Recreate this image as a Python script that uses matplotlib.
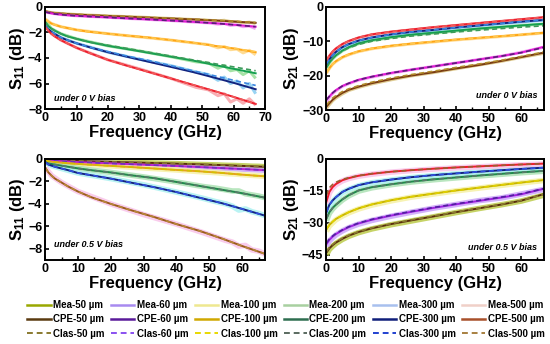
import matplotlib.pyplot as plt
import numpy as np
from matplotlib.lines import Line2D
from matplotlib.ticker import MultipleLocator

plt.rcParams['font.family'] = ['Liberation Sans', 'DejaVu Sans']
plt.rcParams['font.weight'] = 'bold'
plt.rcParams['axes.labelweight'] = 'bold'
plt.rcParams['mathtext.fontset'] = 'custom'
plt.rcParams['mathtext.rm'] = 'Liberation Sans:bold'
plt.rcParams['mathtext.it'] = 'Liberation Sans:bold'
plt.rcParams['mathtext.bf'] = 'Liberation Sans:bold'

# frequency grids (GHz)
f = [0.1, 1, 2, 3, 5, 7, 10, 14, 20, 26, 33, 40, 47, 54, 60, 67]
f_mea = [0.1, 2, 5, 10, 20, 30, 40, 48, 52, 55, 57, 59, 61, 63, 65, 67]

# ---- S11 under 0 V (top left), order: brown, magenta, orange, green, navy, red
s11_0_cpe = [
    [-0.35, -0.4, -0.45, -0.48, -0.52, -0.56, -0.6, -0.65, -0.71, -0.77, -0.84, -0.91, -0.98, -1.06, -1.15, -1.25],
    [-0.4, -0.45, -0.5, -0.55, -0.6, -0.65, -0.7, -0.75, -0.82, -0.9, -0.98, -1.07, -1.17, -1.28, -1.4, -1.55],
    [-1.0, -1.15, -1.3, -1.4, -1.55, -1.65, -1.8, -1.95, -2.1, -2.25, -2.4, -2.6, -2.8, -3.05, -3.25, -3.55],
    [-1.2, -1.5, -1.7, -1.85, -2.1, -2.3, -2.5, -2.75, -3.05, -3.3, -3.6, -3.9, -4.2, -4.55, -4.85, -5.2],
    [-1.5, -1.75, -1.95, -2.1, -2.4, -2.6, -2.85, -3.15, -3.55, -3.9, -4.3, -4.7, -5.1, -5.55, -5.95, -6.45],
    [-1.6, -1.85, -2.1, -2.3, -2.6, -2.85, -3.2, -3.6, -4.15, -4.6, -5.1, -5.6, -6.1, -6.6, -7.05, -7.6],
]
s11_0_clas = [
    [-0.33, -0.38, -0.43, -0.46, -0.5, -0.54, -0.58, -0.63, -0.69, -0.75, -0.82, -0.89, -0.96, -1.04, -1.12, -1.22],
    [-0.4, -0.45, -0.5, -0.55, -0.6, -0.65, -0.7, -0.75, -0.82, -0.9, -0.98, -1.07, -1.17, -1.28, -1.4, -1.55],
    [-1.0, -1.15, -1.3, -1.4, -1.55, -1.65, -1.8, -1.95, -2.1, -2.25, -2.4, -2.6, -2.8, -3.05, -3.25, -3.5],
    [-1.2, -1.5, -1.7, -1.85, -2.1, -2.3, -2.5, -2.75, -3.0, -3.25, -3.55, -3.85, -4.15, -4.45, -4.7, -5.0],
    [-1.5, -1.75, -1.95, -2.1, -2.4, -2.6, -2.85, -3.15, -3.5, -3.85, -4.2, -4.6, -5.0, -5.4, -5.75, -6.15],
    [-1.6, -1.85, -2.1, -2.3, -2.6, -2.85, -3.2, -3.6, -4.15, -4.6, -5.1, -5.6, -6.1, -6.6, -7.05, -7.6],
]
s11_0_mea = [
    [-0.35, -0.45, -0.52, -0.6, -0.71, -0.8, -0.91, -1.0, -1.05, -1.1, -1.05, -1.15, -1.15, -1.25, -1.2, -1.3],
    [-0.4, -0.5, -0.6, -0.7, -0.82, -0.95, -1.07, -1.2, -1.25, -1.35, -1.3, -1.45, -1.4, -1.55, -1.5, -1.7],
    [-0.95, -1.3, -1.55, -1.8, -2.1, -2.35, -2.6, -2.85, -2.95, -3.2, -3.1, -3.35, -3.3, -3.6, -3.4, -3.75],
    [-1.1, -1.7, -2.1, -2.5, -3.05, -3.45, -3.9, -4.3, -4.4, -4.8, -4.6, -5.0, -4.9, -5.3, -5.0, -5.6],
    [-1.4, -1.95, -2.4, -2.85, -3.55, -4.1, -4.6, -5.1, -5.3, -5.75, -5.5, -6.0, -5.8, -6.35, -6.0, -6.8],
    [-1.5, -2.1, -2.6, -3.2, -4.15, -4.85, -5.6, -6.3, -6.5, -6.95, -6.8, -7.45, -7.2, -7.55, -7.2, -7.7],
]

# ---- S21 under 0 V (top right), measured on the f grid
s21_0_cpe = [
    [-29.0, -28.0, -27.0, -26.2, -25.0, -24.1, -23.2, -22.2, -21.0, -20.0, -19.0, -17.9, -16.9, -15.7, -14.6, -13.3],
    [-27.0, -26.0, -25.0, -24.2, -23.0, -22.2, -21.2, -20.3, -19.2, -18.3, -17.3, -16.3, -15.3, -14.3, -13.3, -11.6],
    [-19.0, -17.8, -16.6, -15.8, -14.6, -13.8, -12.9, -12.1, -11.3, -10.7, -10.1, -9.5, -9.0, -8.5, -8.1, -7.5],
    [-17.5, -16.2, -15.0, -14.1, -12.7, -11.7, -10.6, -9.7, -8.8, -8.1, -7.5, -6.9, -6.3, -5.8, -5.4, -4.9],
    [-16.5, -15.2, -14.0, -13.1, -11.7, -10.8, -9.8, -8.9, -8.0, -7.3, -6.7, -6.0, -5.4, -4.8, -4.3, -3.8],
    [-15.5, -14.2, -13.0, -12.1, -10.8, -9.9, -8.9, -8.0, -7.2, -6.6, -5.9, -5.3, -4.7, -4.1, -3.6, -3.0],
]
s21_0_clas = [
    [-28.5, -27.5, -26.5, -25.8, -24.6, -23.8, -22.9, -21.9, -20.7, -19.7, -18.7, -17.6, -16.6, -15.5, -14.4, -13.1],
    [-27.0, -26.0, -25.0, -24.2, -23.0, -22.2, -21.2, -20.3, -19.2, -18.3, -17.3, -16.3, -15.3, -14.3, -13.3, -11.8],
    [-19.0, -17.8, -16.6, -15.8, -14.6, -13.8, -12.9, -12.1, -11.3, -10.7, -10.1, -9.5, -9.0, -8.5, -8.1, -7.5],
    [-17.5, -16.2, -15.0, -14.1, -12.8, -11.9, -10.9, -10.0, -9.2, -8.5, -7.9, -7.3, -6.8, -6.3, -5.9, -5.5],
    [-16.5, -15.2, -14.0, -13.1, -11.7, -10.8, -9.8, -8.9, -8.0, -7.3, -6.7, -6.0, -5.4, -4.8, -4.3, -3.8],
    [-15.5, -14.2, -13.0, -12.1, -10.8, -9.9, -8.9, -8.0, -7.2, -6.6, -5.9, -5.3, -4.7, -4.1, -3.6, -3.0],
]
s21_0_mea = [
    [-29.5, -28.4, -27.3, -26.5, -25.3, -24.3, -23.4, -22.4, -21.2, -20.1, -19.1, -18.0, -16.9, -15.8, -14.7, -13.5],
    [-27.5, -26.3, -25.2, -24.4, -23.1, -22.3, -21.3, -20.4, -19.3, -18.3, -17.3, -16.3, -15.3, -14.3, -13.2, -11.7],
    [-19.3, -17.9, -16.7, -15.9, -14.7, -13.9, -13.0, -12.2, -11.4, -10.8, -10.2, -9.6, -9.1, -8.6, -8.1, -7.6],
    [-17.8, -16.3, -15.1, -14.2, -12.8, -11.8, -10.7, -9.8, -8.9, -8.2, -7.6, -7.0, -6.4, -5.9, -5.4, -5.0],
    [-16.8, -15.3, -14.1, -13.2, -11.8, -10.9, -9.9, -9.0, -8.1, -7.4, -6.8, -6.1, -5.5, -4.9, -4.4, -3.9],
    [-15.8, -14.3, -13.1, -12.2, -10.9, -10.0, -9.0, -8.1, -7.3, -6.7, -6.0, -5.4, -4.8, -4.2, -3.7, -3.1],
]

# ---- S11 under 0.5 V (bottom left), order: 50, 60, 100, 200, 300, 500 um
s11_5_cpe = [
    [-0.05, -0.07, -0.09, -0.1, -0.12, -0.14, -0.17, -0.21, -0.26, -0.31, -0.36, -0.42, -0.48, -0.55, -0.62, -0.7],
    [-0.1, -0.12, -0.15, -0.17, -0.2, -0.23, -0.28, -0.33, -0.4, -0.47, -0.55, -0.63, -0.72, -0.82, -0.9, -1.0],
    [-0.15, -0.2, -0.25, -0.28, -0.33, -0.38, -0.45, -0.52, -0.62, -0.72, -0.85, -0.98, -1.1, -1.25, -1.4, -1.55],
    [-0.3, -0.4, -0.45, -0.5, -0.6, -0.7, -0.84, -1.0, -1.2, -1.45, -1.7, -2.05, -2.4, -2.75, -3.05, -3.45],
    [-0.3, -0.5, -0.6, -0.7, -0.85, -1.0, -1.25, -1.45, -1.75, -2.1, -2.5, -2.95, -3.45, -3.95, -4.45, -5.05],
    [-0.8, -1.2, -1.5, -1.75, -2.1, -2.45, -2.9, -3.4, -4.0, -4.55, -5.15, -5.8, -6.4, -7.1, -7.75, -8.45],
]
s11_5_clas = [
    [-0.05, -0.07, -0.09, -0.1, -0.12, -0.14, -0.17, -0.21, -0.26, -0.31, -0.36, -0.42, -0.48, -0.55, -0.62, -0.7],
    [-0.1, -0.12, -0.15, -0.17, -0.2, -0.23, -0.28, -0.33, -0.4, -0.47, -0.55, -0.63, -0.72, -0.82, -0.9, -1.0],
    [-0.15, -0.2, -0.25, -0.28, -0.33, -0.38, -0.45, -0.52, -0.62, -0.72, -0.85, -0.98, -1.1, -1.25, -1.4, -1.55],
    [-0.3, -0.4, -0.45, -0.5, -0.6, -0.7, -0.84, -1.0, -1.2, -1.45, -1.7, -2.05, -2.4, -2.75, -3.05, -3.45],
    [-0.3, -0.5, -0.6, -0.7, -0.85, -1.0, -1.25, -1.45, -1.75, -2.1, -2.5, -2.95, -3.45, -3.95, -4.45, -5.05],
    [-0.8, -1.2, -1.5, -1.75, -2.1, -2.45, -2.9, -3.4, -4.0, -4.55, -5.15, -5.8, -6.4, -7.1, -7.75, -8.45],
]
s11_5_mea = [
    [-0.05, -0.09, -0.12, -0.17, -0.26, -0.34, -0.42, -0.5, -0.53, -0.57, -0.58, -0.6, -0.62, -0.65, -0.66, -0.7],
    [-0.1, -0.15, -0.2, -0.28, -0.4, -0.52, -0.63, -0.75, -0.8, -0.85, -0.86, -0.9, -0.92, -0.95, -0.97, -1.0],
    [-0.15, -0.25, -0.33, -0.45, -0.62, -0.8, -0.98, -1.15, -1.22, -1.3, -1.33, -1.37, -1.42, -1.46, -1.5, -1.55],
    [-0.3, -0.45, -0.6, -0.84, -1.2, -1.6, -2.05, -2.45, -2.6, -2.75, -2.85, -2.85, -3.1, -3.2, -3.3, -3.45],
    [-0.3, -0.6, -0.85, -1.25, -1.75, -2.3, -2.95, -3.5, -3.8, -4.0, -4.2, -4.55, -4.45, -4.7, -4.85, -5.05],
    [-0.8, -1.5, -2.1, -2.9, -4.0, -4.95, -5.8, -6.55, -6.95, -7.25, -7.4, -7.75, -7.7, -8.1, -8.2, -8.45],
]

# ---- S21 under 0.5 V (bottom right), measured on the f grid
s21_5_cpe = [
    [-44.0, -42.0, -40.5, -39.3, -37.5, -36.0, -34.3, -32.6, -30.6, -28.9, -27.0, -25.0, -23.2, -21.4, -19.6, -16.5],
    [-40.0, -38.0, -36.5, -35.3, -33.5, -32.0, -30.3, -28.6, -26.6, -24.9, -23.0, -21.3, -19.7, -18.1, -16.6, -14.0],
    [-33.0, -31.0, -29.5, -28.2, -26.5, -25.0, -23.2, -21.4, -19.4, -17.8, -16.3, -14.8, -13.5, -12.2, -11.1, -9.9],
    [-28.0, -25.0, -23.0, -21.5, -19.0, -17.0, -14.8, -13.3, -11.9, -10.7, -9.6, -8.7, -7.8, -7.0, -6.3, -5.6],
    [-25.0, -21.5, -19.5, -18.0, -15.5, -14.0, -12.3, -11.0, -9.7, -8.6, -7.6, -6.8, -6.0, -5.3, -4.7, -4.1],
    [-20.0, -15.5, -13.2, -11.8, -10.0, -9.0, -7.9, -7.0, -6.0, -5.3, -4.6, -4.0, -3.5, -3.0, -2.6, -2.2],
]
s21_5_clas = [
    [-43.5, -41.6, -40.1, -39.0, -37.2, -35.8, -34.1, -32.4, -30.4, -28.7, -26.8, -24.9, -23.1, -21.3, -19.5, -16.6],
    [-39.5, -37.6, -36.2, -35.0, -33.3, -31.8, -30.1, -28.4, -26.4, -24.7, -22.8, -21.1, -19.5, -17.9, -16.4, -13.9],
    [-33.0, -31.0, -29.5, -28.2, -26.5, -25.0, -23.2, -21.4, -19.4, -17.8, -16.3, -14.8, -13.5, -12.2, -11.1, -9.9],
    [-28.0, -25.0, -23.0, -21.5, -19.0, -17.0, -14.8, -13.3, -11.9, -10.7, -9.6, -8.7, -7.8, -7.0, -6.3, -5.6],
    [-25.0, -21.5, -19.5, -18.0, -15.5, -14.0, -12.3, -11.0, -9.7, -8.6, -7.6, -6.8, -6.0, -5.3, -4.7, -4.1],
    [-17.0, -13.5, -12.0, -11.0, -9.6, -8.8, -7.8, -6.9, -6.0, -5.3, -4.6, -4.0, -3.5, -3.0, -2.6, -2.2],
]
s21_5_mea = [
    [-45.0, -42.5, -41.0, -39.7, -37.8, -36.3, -34.6, -32.9, -30.9, -29.2, -27.2, -25.2, -23.3, -21.5, -19.8, -17.0],
    [-41.0, -38.5, -37.0, -35.7, -33.8, -32.3, -30.6, -28.9, -26.9, -25.1, -23.1, -21.4, -19.6, -18.3, -16.5, -14.3],
    [-34.0, -31.5, -30.0, -28.6, -26.8, -25.3, -23.5, -21.7, -19.7, -18.0, -16.5, -15.0, -13.7, -12.4, -11.3, -10.1],
    [-29.0, -25.5, -23.5, -21.9, -19.3, -17.3, -15.1, -13.6, -12.1, -10.9, -9.8, -8.9, -8.0, -7.2, -6.5, -5.8],
    [-26.0, -22.0, -20.0, -18.4, -15.8, -14.3, -12.6, -11.2, -9.9, -8.8, -7.8, -7.0, -6.2, -5.5, -4.9, -4.3],
    [-21.0, -16.0, -13.6, -12.1, -10.3, -9.2, -8.1, -7.2, -6.2, -5.5, -4.8, -4.2, -3.7, -3.2, -2.8, -2.4],
]

# colours used in the panels
top_cpe = ['#7a3b12', '#e21ad6', '#ffa514', '#14a050', '#13237e', '#ee1c2c']
top_clas = ['#b08a2a', '#5b1e7a', '#ffc850', '#3c9a5a', '#3a86e0', '#f05a5a']
top_mea = ['#d8c078', '#f090f0', '#ffd47a', '#90dc90', '#7ec8f0', '#f79aa0']
bot_cpe = ['#5a2e0c', '#c020d0', '#e8a020', '#1e8a4a', '#13237e', '#9a5a1e']
bot_clas = ['#8a7a30', '#7030c0', '#d4c000', '#5a7a6a', '#3050e0', '#b8863a']
bot_mea = ['#b8c840', '#c8a0f8', '#f5f0a0', '#a8e0b0', '#a8f0f0', '#f8c0e8']
bot_cpe_r = ['#5a2e0c', '#a020e0', '#c8b400', '#1e8a4a', '#13237e', '#ee1c2c']
bot_clas_r = ['#8a7a30', '#5020a0', '#e0d000', '#5a7a6a', '#3050e0', '#9a6030']

fig = plt.figure(figsize=(5.5, 3.44), dpi=100)
ax1 = fig.add_axes([0.082, 0.683, 0.400, 0.297])
ax2 = fig.add_axes([0.593, 0.680, 0.396, 0.300])
ax3 = fig.add_axes([0.082, 0.244, 0.400, 0.294])
ax4 = fig.add_axes([0.593, 0.244, 0.396, 0.294])


def draw(ax, fm, cpe, clas, mea, c_cpe, c_clas, c_mea, mea_lw):
    for i in range(6):
        ax.plot(fm, mea[i], color=c_mea[i], lw=mea_lw, alpha=0.8, solid_capstyle='butt')
    for i in range(6):
        ax.plot(f, cpe[i], color=c_cpe[i], lw=1.4)
        ax.plot(f, clas[i], color=c_clas[i], lw=1.2, ls=(0, (3, 2)))


draw(ax1, f_mea, s11_0_cpe, s11_0_clas, s11_0_mea, top_cpe, top_clas, top_mea, 2.2)
draw(ax2, f, s21_0_cpe, s21_0_clas, s21_0_mea, top_cpe, top_clas, top_mea, 2.2)
draw(ax3, f_mea, s11_5_cpe, s11_5_clas, s11_5_mea, bot_cpe, bot_clas, bot_mea, 4)
draw(ax4, f, s21_5_cpe, s21_5_clas, s21_5_mea, bot_cpe_r, bot_clas_r, bot_mea, 4)

ax1.set_xlim(0, 70)
ax1.set_ylim(-8, 0)
ax1.set_yticks([0, -2, -4, -6, -8])
ax1.set_ylabel('S$_{11}$ (dB)')
ax1.text(0.04, 0.08, 'under 0 V bias', transform=ax1.transAxes, fontsize=6.5, style='italic')

ax2.set_xlim(0, 67)
ax2.set_ylim(-30, 0)
ax2.set_yticks([0, -10, -20, -30])
ax2.set_ylabel('S$_{21}$ (dB)')
ax2.text(0.97, 0.12, 'under 0 V bias', transform=ax2.transAxes, fontsize=6.5, style='italic', ha='right')

ax3.set_xlim(0, 67)
ax3.set_ylim(-9, 0)
ax3.set_yticks([0, -2, -4, -6, -8])
ax3.set_ylabel('S$_{11}$ (dB)')
ax3.text(0.04, 0.13, 'under 0.5 V bias', transform=ax3.transAxes, fontsize=6.5, style='italic')

ax4.set_xlim(0, 67)
ax4.set_ylim(-47.5, 0)
ax4.set_yticks([0, -15, -30, -45])
ax4.set_ylabel('S$_{21}$ (dB)')
ax4.text(0.97, 0.1, 'under 0.5 V bias', transform=ax4.transAxes, fontsize=6.5, style='italic', ha='right')

for ax in (ax1, ax2, ax3, ax4):
    ax.set_xlabel('Frequency (GHz)', fontsize=12, fontweight='bold', labelpad=1)
    ax.yaxis.label.set_fontsize(12)
    ax.yaxis.labelpad = 1
    ax.xaxis.set_major_locator(MultipleLocator(10))
    ax.xaxis.set_minor_locator(MultipleLocator(5))
    ax.tick_params(direction='in', labelsize=9, width=1.2, length=3, pad=2)
    ax.tick_params(which='minor', direction='in', width=1, length=2)
    for s in ax.spines.values():
        s.set_linewidth(1.4)

# legend (bottom), grouped by thickness
groups = ['50', '60', '100', '200', '300', '500']
leg_mea = ['#99a800', '#a88af0', '#eee890', '#a8d0a0', '#a8c0ee', '#f0d0c8']
leg_cpe = ['#5a3a10', '#5a1a9a', '#d0a800', '#2e6e50', '#101e7a', '#a8502a']
leg_clas = ['#8a7a30', '#8a50f0', '#e8d800', '#5a6a60', '#2040d0', '#a88040']
handles = []
labels = []
for i, g in enumerate(groups):
    handles.append(Line2D([], [], color=leg_mea[i], lw=1.8))
    labels.append('Mea-' + g + ' µm')
    handles.append(Line2D([], [], color=leg_cpe[i], lw=1.8))
    labels.append('CPE-' + g + ' µm')
    handles.append(Line2D([], [], color=leg_clas[i], lw=1.4, ls=(0, (3, 2))))
    labels.append('Clas-' + g + ' µm')
fig.legend(handles, labels, ncol=6, loc='lower center', bbox_to_anchor=(0.52, -0.01),
           frameon=False, fontsize=7.0, handlelength=2.4, handletextpad=0.25,
           columnspacing=0.65, labelspacing=0.45)

plt.savefig('out.png', dpi=100)
